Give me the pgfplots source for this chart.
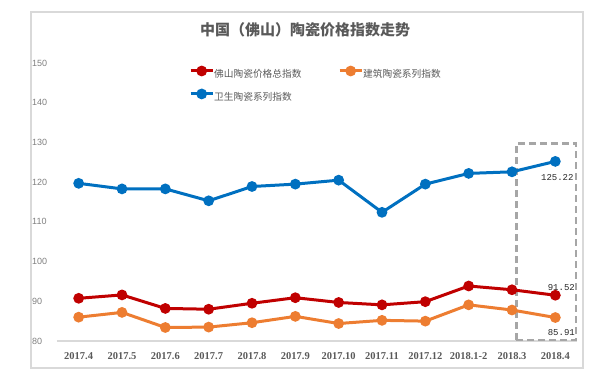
\documentclass[border=0pt]{standalone}
\usepackage{pgfplots}
\pgfplotsset{compat=1.18}
\usepackage{fontspec}
\setmainfont{Liberation Serif}
\setsansfont{Liberation Sans}
\setmonofont{Liberation Mono}
\newfontfamily\cjk{Noto Sans CJK SC}
\definecolor{cred}{HTML}{C00000}
\definecolor{corange}{HTML}{ED7D31}
\definecolor{cblue}{HTML}{0070C0}
\definecolor{framegray}{HTML}{D9D9D9}
\definecolor{boxgray}{HTML}{A6A6A6}
\definecolor{txtgray}{HTML}{595959}
\definecolor{ticgray}{HTML}{7F7F7F}
\definecolor{lblcol}{HTML}{262626}

\pgfplotstableread{
x total build sanit
0 90.75 86.0 119.7
1 91.6 87.2 118.3
2 88.2 83.4 118.3
3 88.0 83.5 115.3
4 89.5 84.6 118.9
5 90.9 86.2 119.5
6 89.7 84.4 120.5
7 89.1 85.2 112.4
8 89.9 85.0 119.5
9 93.85 89.1 122.2
10 92.9 87.8 122.6
11 91.52 85.91 125.22
}\datatable

\begin{document}
\begin{tikzpicture}[x=1pt,y=1pt]
\useasboundingbox (-57,-38) rectangle (556,341);
\draw[framegray, line width=2.5pt] (-26,329) rectangle (526,-27);
\node[text=txtgray, font=\cjk\bfseries\fontsize{15}{15}\selectfont] at (248,311) {中国（佛山）陶瓷价格指数走势};
\begin{axis}[
  scale only axis, width=520pt, height=278pt,
  at={(0pt,0pt)}, anchor=south west,
  xmin=-0.5, xmax=11.5, ymin=80, ymax=150,
  axis x line*=bottom, axis y line*=left,
  x axis line style={draw=framegray, line width=1.5pt, -},
  y axis line style={draw=none},
  major tick length=0pt,
  ytick={80,90,...,150},
  xtick={0,...,11},
  xticklabels={2017.4,2017.5,2017.6,2017.7,2017.8,2017.9,2017.10,2017.11,2017.12,2018.1-2,2018.3,2018.4},
  xticklabel style={font=\bfseries\fontsize{10.5}{10.5}\selectfont, text=txtgray, anchor=center, yshift=-15pt},
  yticklabel style={font=\sffamily\fontsize{9}{9}\selectfont, text=ticgray, anchor=west, inner sep=0pt, xshift=-25pt},
  /pgf/number format/assume math mode=true,
  clip=false,
  legend columns=2,
  legend cell align=left,
  legend style={at={(132/520,274/278)}, anchor=north west, draw=none, fill=none,
    inner sep=0pt, row sep=11pt,
    font=\cjk\fontsize{9.7}{9.7}\selectfont, text=txtgray,
    nodes={inner sep=0pt, text width=122pt},
    /tikz/every even column/.append style={column sep=2pt},
    /tikz/every odd column/.append style={column sep=0pt}},
  legend image code/.code={\draw[#1, mark repeat=2, mark phase=2] plot coordinates {(0pt,3.3pt) (11pt,3.3pt) (22pt,3.3pt)};},
]
\draw[boxgray, line width=2.5pt, dash pattern=on 7pt off 4pt] (axis cs:10.1,80.2) rectangle (axis cs:11.48,129.7);
\addplot[cred, line width=3pt, mark=*, mark size=3.8pt, mark options={solid, fill=cred, draw=cred}] table[x=x, y=total] {\datatable};
\addlegendentry{佛山陶瓷价格总指数}
\addplot[corange, line width=3pt, mark=*, mark size=3.8pt, mark options={solid, fill=corange, draw=corange}] table[x=x, y=build] {\datatable};
\addlegendentry{建筑陶瓷系列指数}
\addplot[cblue, line width=3pt, mark=*, mark size=3.8pt, mark options={solid, fill=cblue, draw=cblue}] table[x=x, y=sanit] {\datatable};
\addlegendentry{卫生陶瓷系列指数}
\node[text=lblcol, font=\ttfamily\fontsize{9}{9}\selectfont] at (axis cs:11,125.22) [xshift=2pt, yshift=-16.5pt] {125.22};
\node[text=lblcol, font=\ttfamily\fontsize{9}{9}\selectfont] at (axis cs:11,91.52) [xshift=6pt, yshift=8pt] {91.52};
\node[text=lblcol, font=\ttfamily\fontsize{9}{9}\selectfont] at (axis cs:11,85.91) [xshift=6pt, yshift=-15.5pt] {85.91};
\end{axis}
\end{tikzpicture}
\end{document}
